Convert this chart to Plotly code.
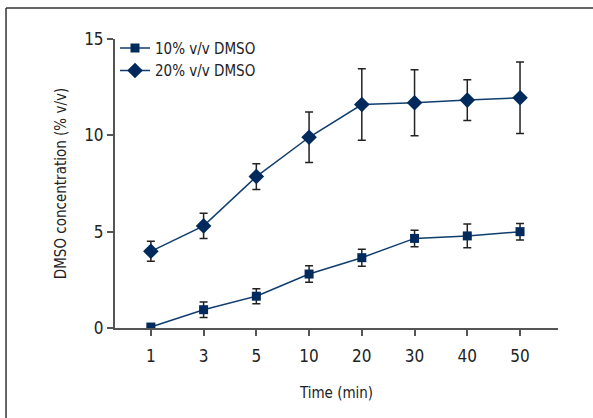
import plotly.graph_objects as go

categories = ["1", "3", "5", "10", "20", "30", "40", "50"]
s10_values = [0.05, 0.95, 1.65, 2.8, 3.65, 4.65, 4.78, 5.0]
s10_errors = [0.0, 0.4, 0.39, 0.43, 0.44, 0.43, 0.62, 0.43]
s20_values = [3.98, 5.3, 7.86, 9.9, 11.6, 11.69, 11.83, 11.95]
s20_errors = [0.52, 0.66, 0.67, 1.31, 1.85, 1.71, 1.06, 1.86]

FONT = "DejaVu Sans Condensed, Liberation Sans Narrow, sans-serif"
LINE_C = "#0f3d6e"
MARK_C = "#002a5c"

fig = go.Figure()
xi = list(range(len(categories)))

fig.add_trace(go.Scatter(
    x=xi, y=s10_values, mode="lines+markers", name="10% v/v DMSO",
    line=dict(color=LINE_C, width=1.5),
    marker=dict(symbol="square", size=9, color=MARK_C),
    error_y=dict(type="data", array=s10_errors, visible=True, color="#222222", thickness=1.5, width=4),
))
fig.add_trace(go.Scatter(
    x=xi, y=s20_values, mode="lines+markers", name="20% v/v DMSO",
    line=dict(color=LINE_C, width=1.5),
    marker=dict(symbol="diamond", size=12, color=MARK_C),
    error_y=dict(type="data", array=s20_errors, visible=True, color="#222222", thickness=1.5, width=4),
))

shapes = [
    dict(type="line", xref="paper", yref="paper", x0=-0.246, x1=1.2, y0=1.107, y1=1.107,
         line=dict(color="#333333", width=1.5)),
    dict(type="line", xref="paper", yref="paper", x0=-0.246, x1=-0.246, y0=1.107, y1=-0.4,
         line=dict(color="#333333", width=1.5)),
]

fig.update_layout(
    width=593, height=418,
    margin=dict(l=115, r=35, t=39, b=90),
    paper_bgcolor="white", plot_bgcolor="white",
    font=dict(family=FONT, size=16, color="#222222"),
    showlegend=True,
    legend=dict(x=0.0, y=1.025, xanchor="left", yanchor="top", bgcolor="rgba(0,0,0,0)",
                font=dict(size=15), tracegroupgap=0, itemwidth=30),
    xaxis=dict(
        tickmode="array", tickvals=xi, ticktext=categories,
        range=[-0.68, 7.72], showline=True, linecolor="#555555", linewidth=2,
        ticks="outside", ticklen=6, tickwidth=1.5, tickcolor="#555555",
        showgrid=False, zeroline=False, ticklabelstandoff=6,
        title=dict(text="Time (min)", font=dict(size=15), standoff=22),
        tickfont=dict(size=17),
    ),
    yaxis=dict(
        range=[0, 15], tickvals=[0, 5, 10, 15], showline=True, linecolor="#555555", linewidth=2,
        ticks="outside", ticklen=6, tickwidth=1.5, tickcolor="#555555",
        showgrid=False, zeroline=False,
        title=dict(text="DMSO concentration (% v/v)", font=dict(size=15), standoff=14),
        tickfont=dict(size=17),
    ),
    shapes=shapes,
)

fig.write_html("out.html", config={"displayModeBar": False},
               post_script="document.body.style.margin='0px';")
